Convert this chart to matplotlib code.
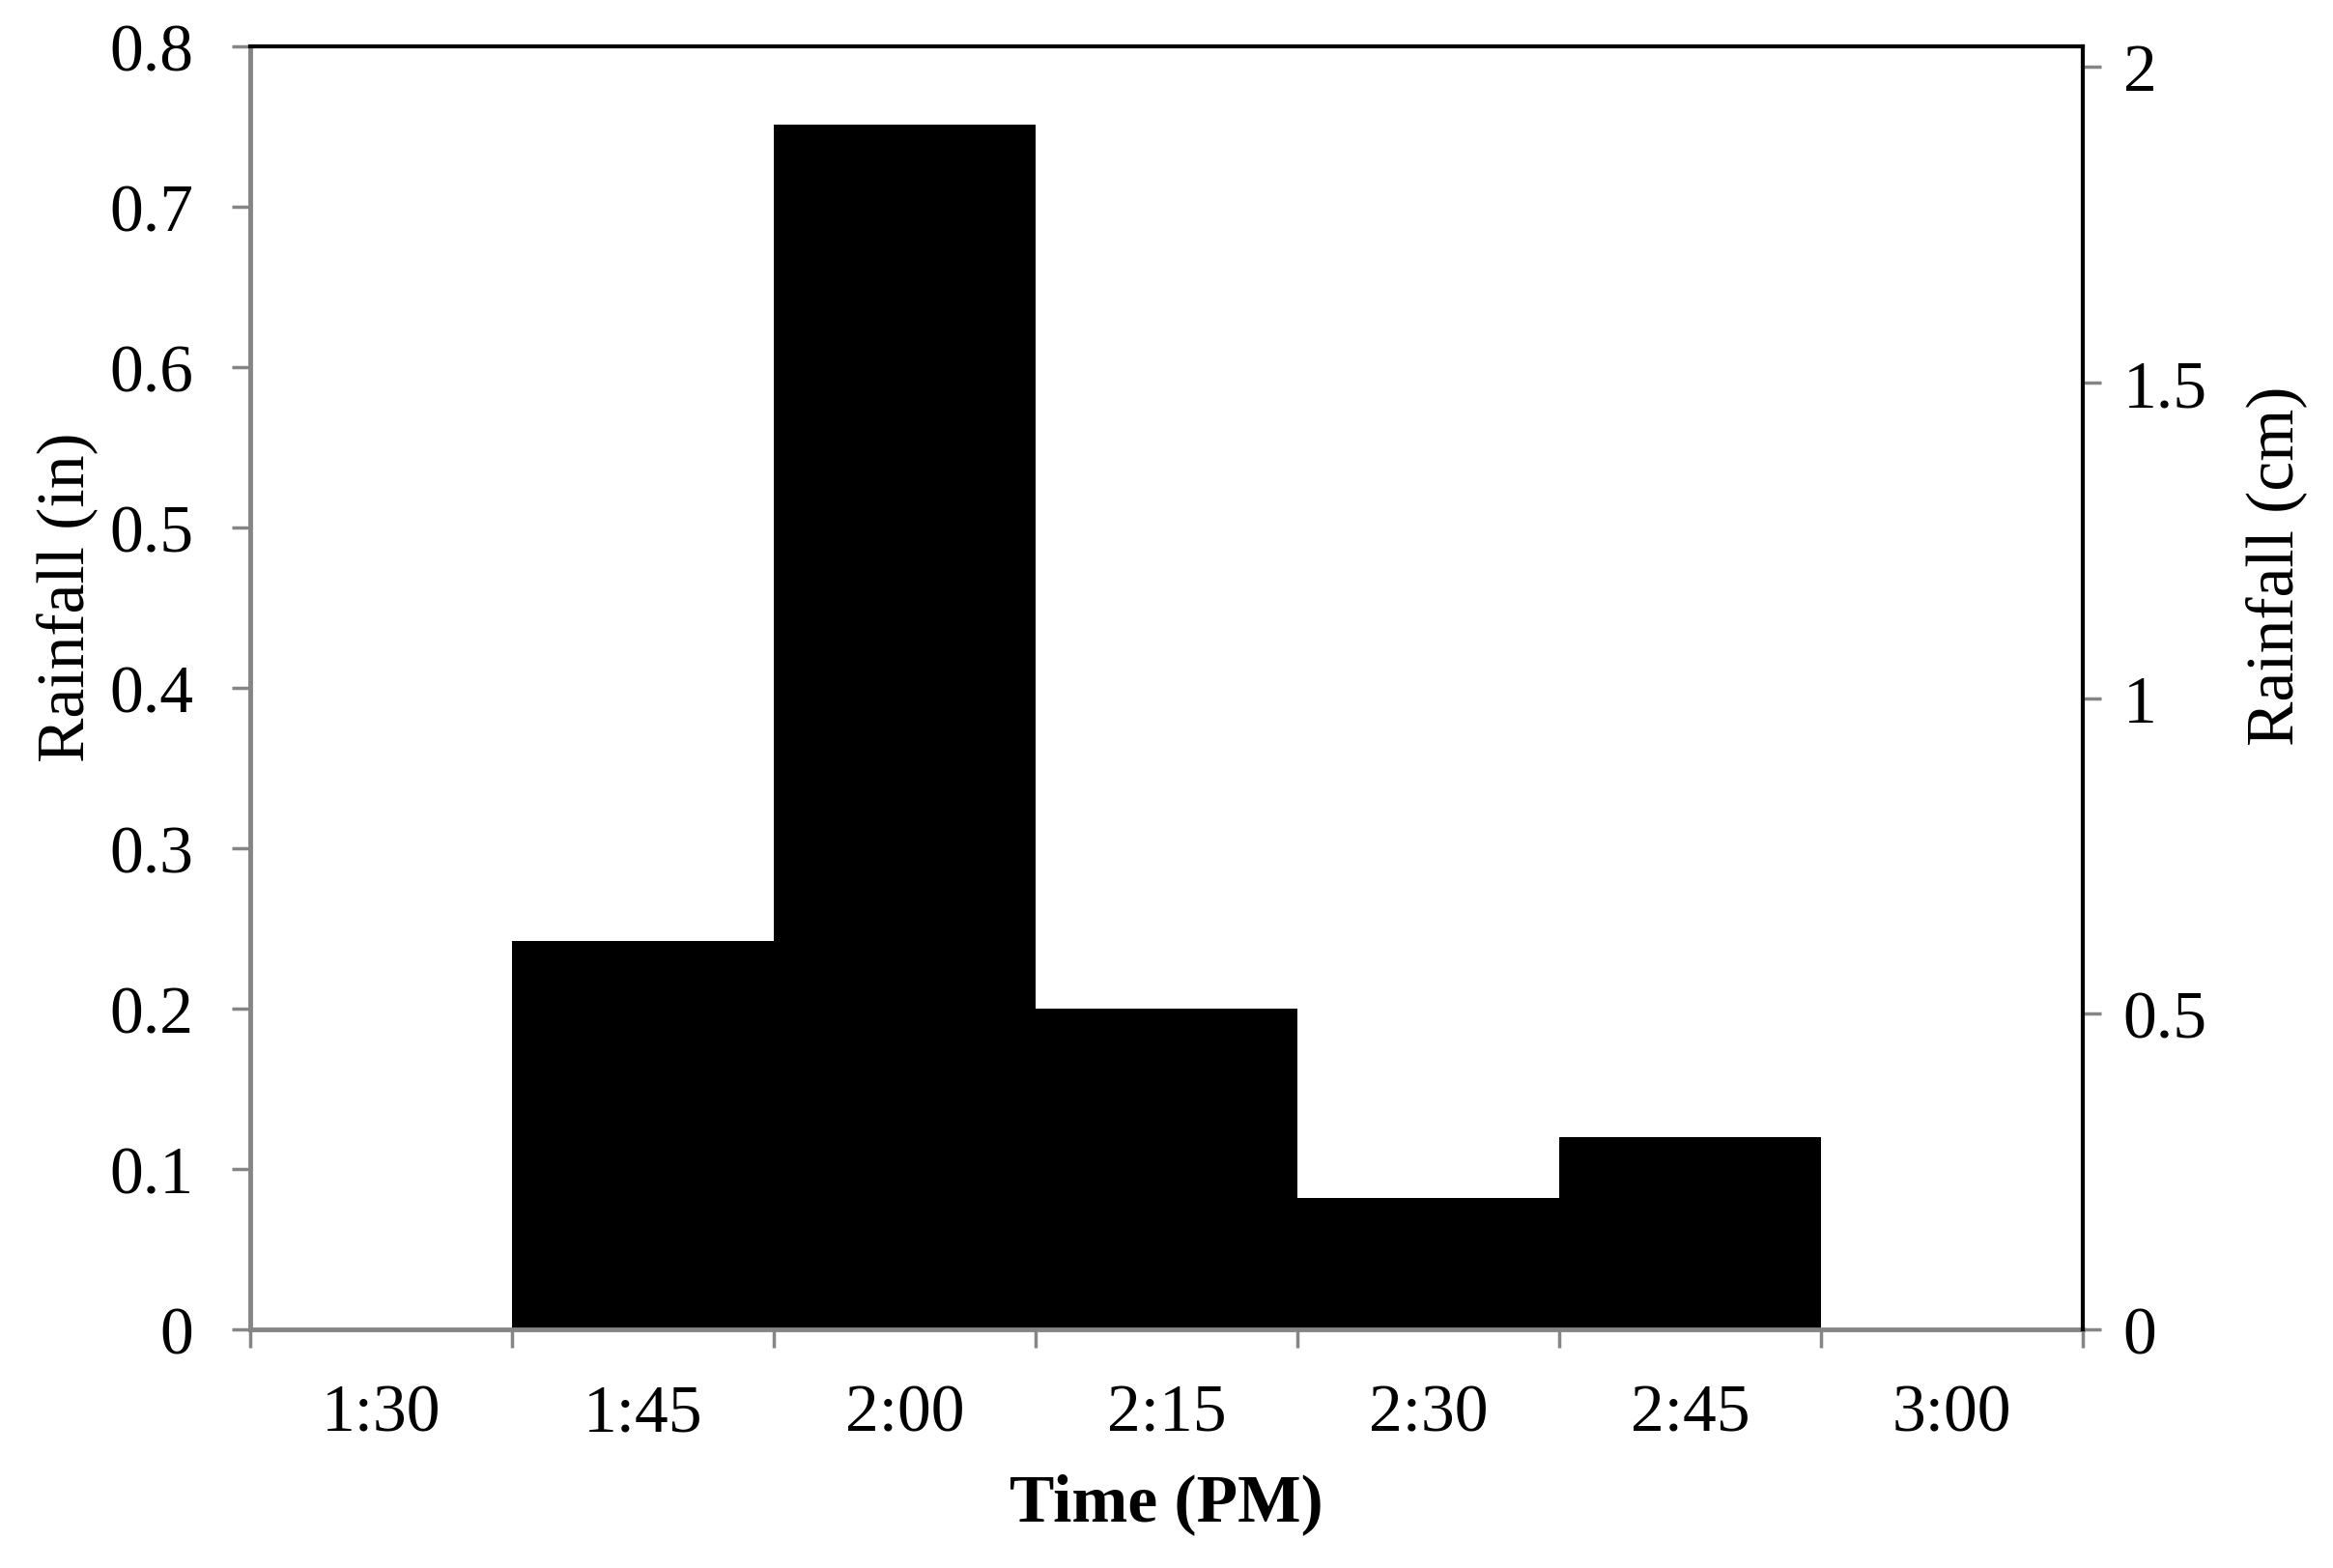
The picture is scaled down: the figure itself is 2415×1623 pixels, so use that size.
import matplotlib.pyplot as plt
import numpy as np

# rainfall per 15-minute interval
times = ['1:30', '1:45', '2:00', '2:15', '2:30', '2:45', '3:00']
rain_in = [0.0, 0.242, 0.751, 0.2, 0.082, 0.12, 0.0]
left_ticks = [0, 0.1, 0.2, 0.3, 0.4, 0.5, 0.6, 0.7, 0.8]
right_ticks = [0, 0.5, 1, 1.5, 2]
IN_TO_CM = 2.54

plt.rcParams['font.family'] = ['Liberation Serif', 'DejaVu Serif']
grey = '#858585'
fs = 50

fig = plt.figure(figsize=(24.15, 16.24), dpi=100)
ax = fig.add_axes([0.1072, 0.152, 0.7855, 0.8178])

x = np.arange(len(times))
ax.bar(x, rain_in, width=1.0, color='black', linewidth=0)

ax.set_xlim(-0.5, len(times) - 0.5)
ax.set_ylim(0, 0.8)

# boundaries carry the tick marks, centres carry the labels
ax.set_xticks(np.arange(len(times) + 1) - 0.5)
ax.set_xticklabels([])
ax.set_xticks(x, minor=True)
ax.set_xticklabels(times, minor=True)
ax.tick_params(axis='x', which='major', length=14, width=2.5, color=grey, direction='out')
ax.tick_params(axis='x', which='minor', length=0, pad=40, labelsize=fs)

ax.set_yticks(left_ticks)
ax.set_yticklabels(['0' if v == 0 else '{:g}'.format(v) for v in left_ticks])
ax.tick_params(axis='y', length=14, width=2.5, color=grey, direction='out', pad=28, labelsize=fs)

ax.spines['left'].set_color(grey)
ax.spines['left'].set_linewidth(3.5)
ax.spines['bottom'].set_color(grey)
ax.spines['bottom'].set_linewidth(3.5)
ax.spines['top'].set_color('black')
ax.spines['top'].set_linewidth(3)

ax2 = ax.twinx()
ax2.set_ylim(0, 0.8 * IN_TO_CM)
ax2.set_yticks(right_ticks)
ax2.set_yticklabels(['{:g}'.format(v) for v in right_ticks])
ax2.tick_params(axis='y', length=14, width=2.5, color=grey, direction='out', pad=16, labelsize=fs)
for side in ['left', 'bottom', 'top']:
    ax2.spines[side].set_visible(False)
ax2.spines['right'].set_color('black')
ax2.spines['right'].set_linewidth(3)

fig.text(0.0286, 0.619, 'Rainfall (in)', rotation=90, ha='center', va='center', fontsize=fs)
fig.text(0.9756, 0.639, 'Rainfall (cm)', rotation=90, ha='center', va='center', fontsize=fs)
fig.text(0.5, 0.041, 'Time (PM)', ha='center', va='center', fontsize=fs, fontweight='bold')

fig.savefig('out.png', dpi=100)
